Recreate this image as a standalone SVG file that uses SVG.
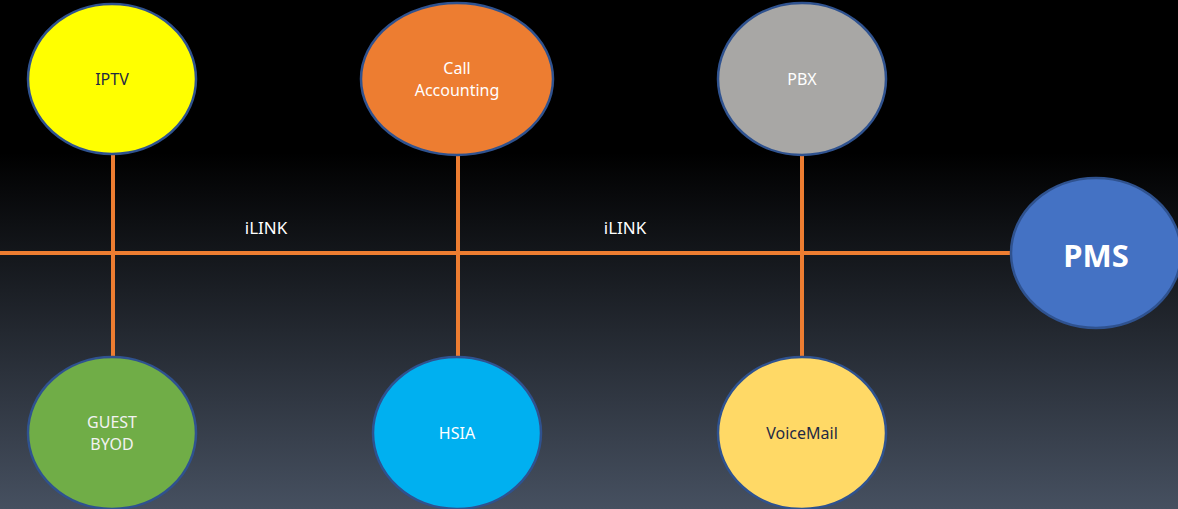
<svg xmlns="http://www.w3.org/2000/svg" width="1178" height="509" viewBox="0 0 1178 509">
<defs>
<linearGradient id="bg" x1="0" y1="0" x2="0" y2="1">
<stop offset="0" stop-color="#000000"/>
<stop offset="0.3" stop-color="#000000"/>
<stop offset="1" stop-color="#465060"/>
</linearGradient>
<style>
.n{stroke:#2F528F;stroke-width:2.5}
.t{font-family:"Noto Sans","Open Sans",sans-serif;font-size:16px;text-anchor:middle}
.c{stroke:#ED7D31;stroke-width:4;fill:none}
.l{font-family:"Noto Sans","Open Sans",sans-serif;font-size:17px;fill:#ffffff;text-anchor:middle}
</style>
</defs>
<rect width="1178" height="509" fill="url(#bg)"/>
<g id="connectors">
<line class="c" x1="0" y1="253" x2="1012" y2="253"/>
<line class="c" x1="113" y1="154" x2="113" y2="358"/>
<line class="c" x1="458" y1="154" x2="458" y2="358"/>
<line class="c" x1="802" y1="154" x2="802" y2="358"/>
<text class="l" x="266" y="234">iLINK</text>
<text class="l" x="625" y="234">iLINK</text>
</g>
<g id="iptv">
<ellipse class="n" cx="112" cy="79" rx="84" ry="75" fill="#FFFF00"/>
<text class="t" x="112" y="85" fill="#1F2A44">IPTV</text>
</g>
<g id="call-accounting">
<ellipse class="n" cx="457" cy="79" rx="96" ry="76" fill="#ED7D31"/>
<text class="t" x="457" y="74" fill="#ffffff">Call</text>
<text class="t" x="457" y="96" fill="#ffffff">Accounting</text>
</g>
<g id="pbx">
<ellipse class="n" cx="802" cy="79" rx="84" ry="76" fill="#A8A7A5"/>
<text class="t" x="802" y="85" fill="#ffffff">PBX</text>
</g>
<g id="pms">
<ellipse class="n" cx="1096" cy="253" rx="85" ry="75" fill="#4472C4"/>
<text x="1096" y="267" fill="#ffffff" font-family="'Noto Sans','Open Sans',sans-serif" font-size="31" font-weight="bold" text-anchor="middle">PMS</text>
</g>
<g id="guest-byod">
<ellipse class="n" cx="112" cy="433" rx="84" ry="76" fill="#70AD47"/>
<text class="t" x="112" y="428" fill="#F2F2F2">GUEST</text>
<text class="t" x="112" y="450" fill="#F2F2F2">BYOD</text>
</g>
<g id="hsia">
<ellipse class="n" cx="457" cy="433" rx="84" ry="76" fill="#00B0F0"/>
<text class="t" x="457" y="439" fill="#ffffff">HSIA</text>
</g>
<g id="voicemail">
<ellipse class="n" cx="802" cy="433" rx="84" ry="76" fill="#FFD966"/>
<text class="t" x="802" y="439" fill="#1F2A44">VoiceMail</text>
</g>
</svg>
